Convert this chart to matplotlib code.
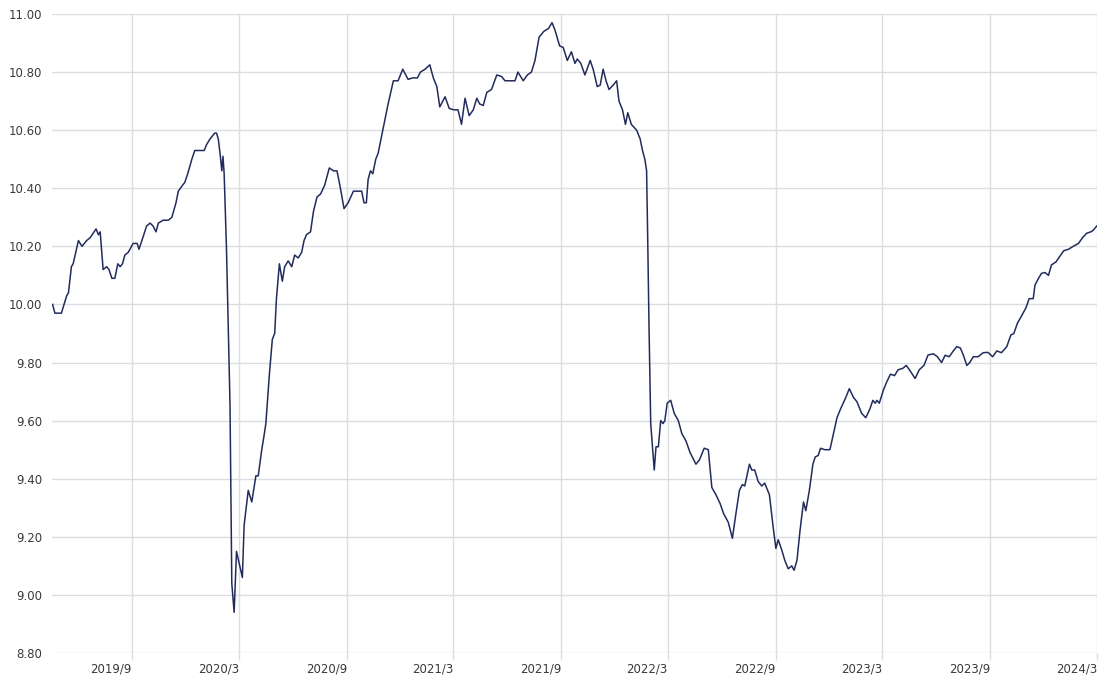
import matplotlib
matplotlib.use("Agg")
import matplotlib.pyplot as plt
import matplotlib.transforms as mtransforms
import pandas as pd

# NAV series
dates = [
    "2019-04-19", "2019-04-23", "2019-05-04", "2019-05-13", "2019-05-16", "2019-05-21",
    "2019-05-24", "2019-06-02", "2019-06-08", "2019-06-16", "2019-06-22", "2019-07-02",
    "2019-07-06", "2019-07-09", "2019-07-14", "2019-07-20", "2019-07-24", "2019-07-29",
    "2019-08-03", "2019-08-08", "2019-08-12", "2019-08-16", "2019-08-20", "2019-08-26",
    "2019-09-03", "2019-09-10", "2019-09-13", "2019-09-18", "2019-09-26", "2019-10-02",
    "2019-10-07", "2019-10-12", "2019-10-16", "2019-10-24", "2019-11-02", "2019-11-08",
    "2019-11-15", "2019-11-19", "2019-11-26", "2019-11-30", "2019-12-05", "2019-12-12",
    "2019-12-17", "2019-12-24", "2020-01-02", "2020-01-06", "2020-01-12", "2020-01-20",
    "2020-01-23", "2020-01-26", "2020-01-29", "2020-02-01", "2020-02-03", "2020-02-05",
    "2020-02-09", "2020-02-15", "2020-02-18", "2020-02-22", "2020-02-26", "2020-03-07",
    "2020-03-10", "2020-03-17", "2020-03-23", "2020-03-30", "2020-04-03", "2020-04-09",
    "2020-04-13", "2020-04-16", "2020-04-22", "2020-04-27", "2020-05-01", "2020-05-04",
    "2020-05-09", "2020-05-14", "2020-05-18", "2020-05-24", "2020-05-30", "2020-06-04",
    "2020-06-10", "2020-06-16", "2020-06-20", "2020-06-24", "2020-07-01", "2020-07-06",
    "2020-07-12", "2020-07-18", "2020-07-25", "2020-08-02", "2020-08-09", "2020-08-15",
    "2020-08-20", "2020-08-27", "2020-09-03", "2020-09-12", "2020-09-20", "2020-09-26",
    "2020-09-30", "2020-10-04", "2020-10-07", "2020-10-11", "2020-10-15", "2020-10-20",
    "2020-10-24", "2020-11-02", "2020-11-10", "2020-11-19", "2020-11-27", "2020-12-05",
    "2020-12-14", "2020-12-22", "2020-12-30", "2021-01-04", "2021-01-12", "2021-01-20",
    "2021-01-26", "2021-02-01", "2021-02-06", "2021-02-15", "2021-02-22", "2021-03-02",
    "2021-03-09", "2021-03-15", "2021-03-21", "2021-03-28", "2021-04-04", "2021-04-10",
    "2021-04-15", "2021-04-21", "2021-04-27", "2021-05-05", "2021-05-14", "2021-05-22",
    "2021-05-28", "2021-06-05", "2021-06-14", "2021-06-19", "2021-06-28", "2021-07-05",
    "2021-07-12", "2021-07-18", "2021-07-25", "2021-08-02", "2021-08-10", "2021-08-16",
    "2021-08-21", "2021-08-29", "2021-09-04", "2021-09-11", "2021-09-18", "2021-09-24",
    "2021-09-28", "2021-10-04", "2021-10-11", "2021-10-20", "2021-10-25", "2021-11-01",
    "2021-11-06", "2021-11-11", "2021-11-16", "2021-11-21", "2021-11-28", "2021-12-04",
    "2021-12-08", "2021-12-14", "2021-12-19", "2021-12-23", "2021-12-29", "2022-01-07",
    "2022-01-13", "2022-01-17", "2022-01-21", "2022-01-24", "2022-01-26", "2022-01-28",
    "2022-01-31", "2022-02-03", "2022-02-06", "2022-02-09", "2022-02-13", "2022-02-17",
    "2022-02-21", "2022-02-24", "2022-02-28", "2022-03-06", "2022-03-12", "2022-03-19",
    "2022-03-25", "2022-04-01", "2022-04-08", "2022-04-18", "2022-04-24", "2022-05-02",
    "2022-05-09", "2022-05-15", "2022-05-22", "2022-05-29", "2022-06-04", "2022-06-12",
    "2022-06-19", "2022-06-25", "2022-07-01", "2022-07-06", "2022-07-10", "2022-07-18",
    "2022-07-22", "2022-07-27", "2022-08-02", "2022-08-08", "2022-08-13", "2022-08-21",
    "2022-08-27", "2022-09-01", "2022-09-05", "2022-09-11", "2022-09-16", "2022-09-22",
    "2022-09-28", "2022-10-02", "2022-10-07", "2022-10-12", "2022-10-18", "2022-10-22",
    "2022-10-28", "2022-11-03", "2022-11-07", "2022-11-12", "2022-11-16", "2022-11-23",
    "2022-12-02", "2022-12-08", "2022-12-14", "2022-12-20", "2022-12-28", "2023-01-04",
    "2023-01-11", "2023-01-17", "2023-01-25", "2023-02-01", "2023-02-08", "2023-02-13",
    "2023-02-17", "2023-02-20", "2023-02-24", "2023-03-03", "2023-03-08", "2023-03-15",
    "2023-03-22", "2023-03-28", "2023-04-05", "2023-04-11", "2023-04-18", "2023-04-26",
    "2023-05-03", "2023-05-11", "2023-05-18", "2023-05-27", "2023-06-03", "2023-06-10",
    "2023-06-16", "2023-06-23", "2023-06-30", "2023-07-06", "2023-07-12", "2023-07-17",
    "2023-07-23", "2023-07-28", "2023-08-03", "2023-08-11", "2023-08-20", "2023-08-28",
    "2023-09-05", "2023-09-12", "2023-09-20", "2023-09-29", "2023-10-06", "2023-10-11",
    "2023-10-17", "2023-10-24", "2023-11-01", "2023-11-06", "2023-11-13", "2023-11-16",
    "2023-11-22", "2023-11-27", "2023-12-03", "2023-12-09", "2023-12-14", "2023-12-22",
    "2023-12-28", "2024-01-04", "2024-01-12", "2024-01-20", "2024-01-29", "2024-02-05",
    "2024-02-12", "2024-02-19", "2024-02-23", "2024-02-29",
]
nav = [
    10.00, 9.97, 9.97, 10.03, 10.04, 10.13,
    10.14, 10.22, 10.20, 10.22, 10.23, 10.26,
    10.24, 10.25, 10.12, 10.13, 10.12, 10.09,
    10.09, 10.14, 10.13, 10.14, 10.17, 10.18,
    10.21, 10.21, 10.19, 10.22, 10.27, 10.28,
    10.27, 10.25, 10.28, 10.29, 10.29, 10.30,
    10.35, 10.39, 10.41, 10.42, 10.45, 10.50,
    10.53, 10.53, 10.53, 10.55, 10.57, 10.59,
    10.59, 10.57, 10.52, 10.46, 10.51, 10.45,
    10.19, 9.65, 9.04, 8.94, 9.15, 9.06,
    9.24, 9.36, 9.32, 9.41, 9.41, 9.50,
    9.55, 9.59, 9.76, 9.88, 9.90, 10.02,
    10.14, 10.08, 10.13, 10.15, 10.13, 10.17,
    10.16, 10.18, 10.22, 10.24, 10.25, 10.32,
    10.37, 10.38, 10.41, 10.47, 10.46, 10.46,
    10.41, 10.33, 10.35, 10.39, 10.39, 10.39,
    10.35, 10.35, 10.43, 10.46, 10.45, 10.50,
    10.52, 10.61, 10.69, 10.77, 10.77, 10.81,
    10.775, 10.78, 10.78, 10.80, 10.81, 10.825,
    10.78, 10.75, 10.68, 10.715, 10.675, 10.67,
    10.67, 10.62, 10.71, 10.65, 10.67, 10.71,
    10.69, 10.685, 10.73, 10.74, 10.79, 10.785,
    10.77, 10.77, 10.77, 10.80, 10.77, 10.79,
    10.80, 10.84, 10.92, 10.94, 10.95, 10.97,
    10.945, 10.89, 10.885, 10.84, 10.87, 10.83,
    10.845, 10.83, 10.79, 10.84, 10.81, 10.75,
    10.755, 10.81, 10.77, 10.74, 10.755, 10.77,
    10.70, 10.67, 10.62, 10.66, 10.62, 10.60,
    10.57, 10.53, 10.50, 10.46, 10.21, 9.935,
    9.59, 9.51, 9.43, 9.51, 9.51, 9.60,
    9.59, 9.60, 9.66, 9.67, 9.625, 9.60,
    9.555, 9.53, 9.49, 9.45, 9.465, 9.505,
    9.50, 9.37, 9.345, 9.315, 9.28, 9.25,
    9.195, 9.28, 9.36, 9.38, 9.375, 9.45,
    9.43, 9.43, 9.39, 9.375, 9.385, 9.345,
    9.24, 9.16, 9.19, 9.155, 9.12, 9.09,
    9.10, 9.085, 9.12, 9.22, 9.32, 9.29,
    9.36, 9.45, 9.475, 9.48, 9.505, 9.50,
    9.50, 9.555, 9.61, 9.64, 9.675, 9.71,
    9.68, 9.665, 9.625, 9.61, 9.64, 9.67,
    9.66, 9.67, 9.66, 9.705, 9.73, 9.76,
    9.755, 9.775, 9.78, 9.79, 9.77, 9.745,
    9.775, 9.79, 9.826, 9.83, 9.82, 9.80,
    9.825, 9.82, 9.84, 9.855, 9.85, 9.826,
    9.79, 9.80, 9.82, 9.82, 9.834, 9.835,
    9.82, 9.84, 9.834, 9.855, 9.895, 9.90,
    9.935, 9.96, 9.99, 10.02, 10.02, 10.067,
    10.09, 10.107, 10.11, 10.10, 10.136, 10.147,
    10.165, 10.185, 10.19, 10.20, 10.21, 10.23,
    10.245, 10.25, 10.255, 10.27,
]

tick_dates = ["2019-09-01", "2020-03-01", "2020-09-01", "2021-03-01", "2021-09-01",
              "2022-03-01", "2022-09-01", "2023-03-01", "2023-09-01", "2024-03-01"]
tick_labels = ["2019/9", "2020/3", "2020/9", "2021/3", "2021/9",
               "2022/3", "2022/9", "2023/3", "2023/9", "2024/3"]
y_ticks = [8.8, 9.0, 9.2, 9.4, 9.6, 9.8, 10.0, 10.2, 10.4, 10.6, 10.8, 11.0]

grid_color = "#dcdde2"
text_color = "#3a3a3a"

fig = plt.figure(figsize=(11.04, 6.82), dpi=100)
ax = fig.add_axes([0.0471, 0.0425, 0.9468, 0.937])

ax.plot(pd.to_datetime(dates), nav, color="#222c5c", linewidth=1.1)

ax.set_xlim(pd.Timestamp("2019-04-18"), pd.Timestamp("2024-03-01"))
ax.set_ylim(8.8, 11.0)

ax.set_yticks(y_ticks)
ax.set_yticklabels([f"{v:.2f}" for v in y_ticks])
ax.set_xticks(pd.to_datetime(tick_dates))
ax.set_xticklabels(tick_labels, ha="right")

# shift the date labels a few pixels left of their grid lines
shift = mtransforms.ScaledTranslation(-4 / 100, 0, fig.dpi_scale_trans)
for lbl in ax.get_xticklabels():
    lbl.set_transform(lbl.get_transform() + shift)

ax.grid(True, color=grid_color, linewidth=1.0)
ax.set_axisbelow(True)
for s in ax.spines.values():
    s.set_visible(False)

ax.tick_params(axis="y", length=0, pad=7, labelsize=8.5, labelcolor=text_color)
ax.tick_params(axis="x", length=5, width=1.0, color=grid_color, pad=2,
               labelsize=8.5, labelcolor=text_color)

fig.savefig("out.png", dpi=100)
